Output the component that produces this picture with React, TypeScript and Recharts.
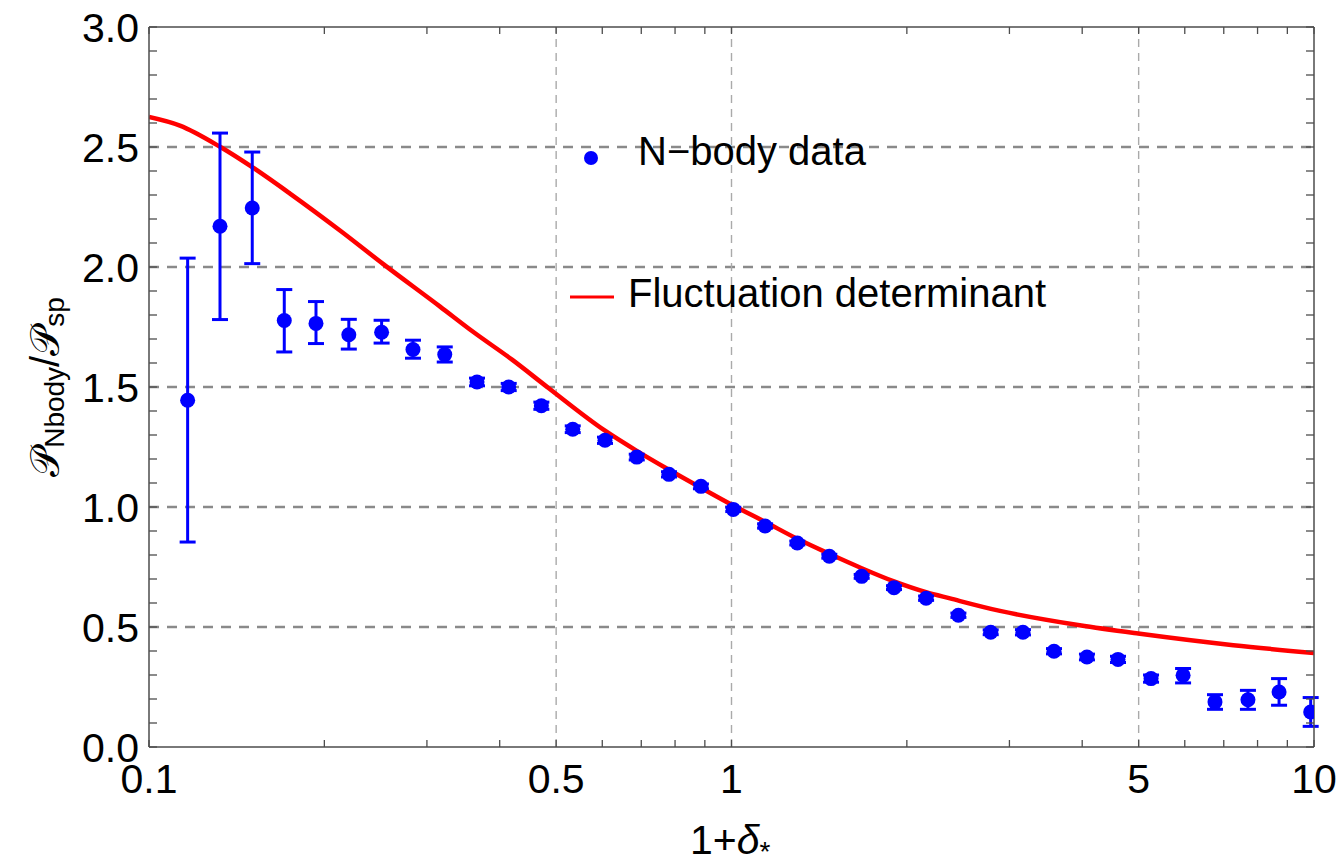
import React from "react";
import {
  ComposedChart,
  XAxis,
  YAxis,
  Scatter,
  ErrorBar,
  Line,
  ReferenceLine,
  Legend,
  Label,
} from "recharts";

// N-body points: 1+delta, ratio and error bar ends
const deltaX = [
  0.1165, 0.1324, 0.1504, 0.1707, 0.1935, 0.2203, 0.2508, 0.2839, 0.3219, 0.3657,
  0.4145, 0.4716, 0.5339, 0.6065, 0.6876, 0.781, 0.8862, 1.007, 1.142, 1.297,
  1.472, 1.673, 1.901, 2.158, 2.452, 2.786, 3.165, 3.578, 4.076, 4.608,
  5.251, 5.96, 6.761, 7.702, 8.71, 9.87,
];
const ratio = [
  1.445, 2.17, 2.246, 1.777, 1.765, 1.718, 1.728, 1.656, 1.635, 1.521,
  1.5, 1.422, 1.324, 1.278, 1.208, 1.136, 1.086, 0.99, 0.921, 0.85,
  0.795, 0.711, 0.664, 0.62, 0.549, 0.478, 0.478, 0.399, 0.375, 0.365,
  0.285, 0.299, 0.188, 0.197, 0.229, 0.146,
];
const ratioLow = [
  0.854, 1.781, 2.014, 1.646, 1.681, 1.658, 1.683, 1.62, 1.604, 1.505,
  1.485, 1.407, 1.31, 1.265, 1.196, 1.125, 1.076, 0.981, 0.912, 0.842,
  0.787, 0.703, 0.656, 0.611, 0.54, 0.468, 0.467, 0.388, 0.363, 0.352,
  0.27, 0.267, 0.157, 0.157, 0.174, 0.086,
];
const ratioHigh = [
  2.037, 2.558, 2.479, 1.906, 1.856, 1.782, 1.778, 1.695, 1.667, 1.537,
  1.515, 1.437, 1.338, 1.291, 1.22, 1.147, 1.096, 0.999, 0.93, 0.858,
  0.803, 0.719, 0.672, 0.629, 0.558, 0.488, 0.489, 0.41, 0.387, 0.378,
  0.3, 0.327, 0.218, 0.236, 0.285, 0.206,
];

// fluctuation determinant curve
const curveX = [
  0.1, 0.113, 0.1324, 0.1504, 0.1746, 0.2133, 0.2525, 0.316, 0.36, 0.42,
  0.485, 0.6065, 0.6876, 0.781, 0.8862, 1.007, 1.142, 1.297, 1.472, 1.673,
  1.901, 2.158, 2.372, 2.89, 3.96, 4.99, 7.27, 10,
];
const curveY = [
  2.625, 2.589, 2.501, 2.416, 2.306, 2.15, 2.012, 1.835, 1.73, 1.614,
  1.496, 1.318, 1.234, 1.155, 1.08, 1.006, 0.938, 0.8675, 0.805, 0.745,
  0.69, 0.645, 0.619, 0.567, 0.507, 0.4725, 0.424, 0.392,
];

const xTicks = [
  0.1, 0.2, 0.3, 0.4, 0.5, 0.6, 0.7, 0.8, 0.9, 1, 2, 3, 4, 5, 6, 7, 8, 9, 10,
];
const xTickLabels = [0.1, 0.5, 1, 5, 10];
const yTicks = [
  0, 0.1, 0.2, 0.3, 0.4, 0.5, 0.6, 0.7, 0.8, 0.9, 1, 1.1, 1.2, 1.3, 1.4, 1.5,
  1.6, 1.7, 1.8, 1.9, 2, 2.1, 2.2, 2.3, 2.4, 2.5, 2.6, 2.7, 2.8, 2.9, 3,
];
const yTickLabels = [0, 0.5, 1, 1.5, 2, 2.5, 3];
const hGrid = [0.5, 1, 1.5, 2, 2.5];
const vGrid = [0.5, 1, 5];

const points = deltaX.map((x, i) => ({
  x,
  y: ratio[i],
  err: [ratio[i] - ratioLow[i], ratioHigh[i] - ratio[i]],
}));
const curve = curveX.map((x, i) => ({ x, y: curveY[i] }));

const FONT = "'Liberation Sans', Arial, sans-serif";
const AXIS = "#4d4d4d";

// plot box edges (axes are 1px wide so that recharts draws them)
const LEFT = 149;
const RIGHT = 1314;
const TOP = 27;
const BOTTOM = 747;

const BottomTick = ({ x, payload }: any) => {
  const v = payload.value;
  const lab = xTickLabels.includes(v);
  return (
    <g>
      <line x1={x} x2={x} y1={BOTTOM} y2={BOTTOM - 7} stroke={AXIS} strokeWidth={1.3} />
      {lab && (
        <text x={x} y={BOTTOM + 46} textAnchor="middle" fontSize={41} fontFamily={FONT} fill="#000">
          {String(v)}
        </text>
      )}
    </g>
  );
};

const TopTick = ({ x }: any) => (
  <line x1={x} x2={x} y1={TOP} y2={TOP + 7} stroke={AXIS} strokeWidth={1.3} />
);

const LeftTick = ({ y, payload }: any) => {
  const v = payload.value;
  const lab = yTickLabels.includes(v);
  return (
    <g>
      <line x1={LEFT} x2={LEFT + 8} y1={y} y2={y} stroke={AXIS} strokeWidth={1.3} />
      {lab && (
        <text x={LEFT - 10} y={y + 14.5} textAnchor="end" fontSize={41} fontFamily={FONT} fill="#000">
          {v.toFixed(1)}
        </text>
      )}
    </g>
  );
};

const RightTick = ({ y }: any) => (
  <line x1={RIGHT} x2={RIGHT - 8} y1={y} y2={y} stroke={AXIS} strokeWidth={1.3} />
);

const Dot = (props: any) => <circle cx={props.cx} cy={props.cy} r={7.5} fill="#0000ff" />;

const XTitle = () => (
  <text x={732 - 42} y={BOTTOM + 107} fontSize={41} fontFamily={FONT} fill="#000">
    1+<tspan fontStyle="italic">δ</tspan>
    <tspan fontSize={28} dy={7}>*</tspan>
  </text>
);

const YTitle = () => {
  const cx = 45;
  const cy = (TOP + BOTTOM) / 2;
  return (
    <text
      x={cx}
      y={cy}
      transform={`rotate(-90 ${cx} ${cy})`}
      textAnchor="middle"
      dominantBaseline="central"
      fontSize={40}
      fontFamily={FONT}
      fill="#000"
    >
      𝒫<tspan fontSize={28} dy={9}>Nbody</tspan>
      <tspan dy={-9}>/𝒫</tspan>
      <tspan fontSize={28} dy={9}>sp</tspan>
    </text>
  );
};

const LegendBox = () => (
  <svg width={1339} height={866} style={{ position: "absolute", left: 0, top: 0 }}>
    <circle cx={591} cy={158} r={7} fill="#0000ff" />
    <text x={638} y={165} fontSize={40} fontFamily={FONT} fill="#000">
      N−body data
    </text>
    <line x1={570} x2={614} y1={297} y2={297} stroke="#ff0000" strokeWidth={3} />
    <text x={628} y={307} fontSize={40} fontFamily={FONT} fill="#000">
      Fluctuation determinant
    </text>
  </svg>
);

export default function App() {
  return (
    <div style={{ position: "absolute", left: 0, top: 0, background: "#fff" }}>
      <ComposedChart
        width={1339}
        height={866}
        margin={{ top: TOP - 1, right: 1339 - RIGHT - 1, bottom: 866 - BOTTOM - 1, left: LEFT - 1 }}
      >
        <XAxis
          dataKey="x"
          type="number"
          scale="log"
          domain={[0.1, 10]}
          allowDataOverflow
          ticks={xTicks}
          interval={0}
          height={1}
          tickSize={0}
          tickMargin={0}
          tick={BottomTick}
          tickLine={false}
          axisLine={{ stroke: AXIS, strokeWidth: 1.5 }}
        >
          <Label content={XTitle} />
        </XAxis>
        <XAxis
          xAxisId="top"
          orientation="top"
          dataKey="x"
          type="number"
          scale="log"
          domain={[0.1, 10]}
          allowDataOverflow
          ticks={xTicks}
          interval={0}
          height={1}
          tickSize={0}
          tickMargin={0}
          tick={TopTick}
          tickLine={false}
          axisLine={{ stroke: AXIS, strokeWidth: 1.5 }}
        />
        <YAxis
          type="number"
          domain={[0, 3]}
          allowDataOverflow
          ticks={yTicks}
          interval={0}
          width={1}
          tickSize={0}
          tickMargin={0}
          tick={LeftTick}
          tickLine={false}
          axisLine={{ stroke: AXIS, strokeWidth: 1.5 }}
        >
          <Label content={YTitle} />
        </YAxis>
        <YAxis
          yAxisId="right"
          orientation="right"
          type="number"
          domain={[0, 3]}
          allowDataOverflow
          ticks={yTicks}
          interval={0}
          width={1}
          tickSize={0}
          tickMargin={0}
          tick={RightTick}
          tickLine={false}
          axisLine={{ stroke: AXIS, strokeWidth: 1.5 }}
        />
        {hGrid.map((v) => (
          <ReferenceLine key={`h${v}`} y={v} stroke="#8a8a8a" strokeWidth={2.4} strokeDasharray="10 8" />
        ))}
        {vGrid.map((v) => (
          <ReferenceLine key={`v${v}`} x={v} stroke="#aaaaaa" strokeWidth={1.4} strokeDasharray="8 6" />
        ))}
        <Line
          data={curve}
          dataKey="y"
          type="monotone"
          stroke="#ff0000"
          strokeWidth={4.5}
          dot={false}
          activeDot={false}
          isAnimationActive={false}
        />
        <Scatter data={points} dataKey="y" shape={Dot} isAnimationActive={false}>
          <ErrorBar dataKey="err" direction="y" width={8} strokeWidth={3} stroke="#0000ff" />
        </Scatter>
        <Legend
          layout="vertical"
          align="center"
          verticalAlign="middle"
          content={LegendBox}
          wrapperStyle={{ left: 0, top: 0, width: 1339, height: 866 }}
        />
      </ComposedChart>
    </div>
  );
}
